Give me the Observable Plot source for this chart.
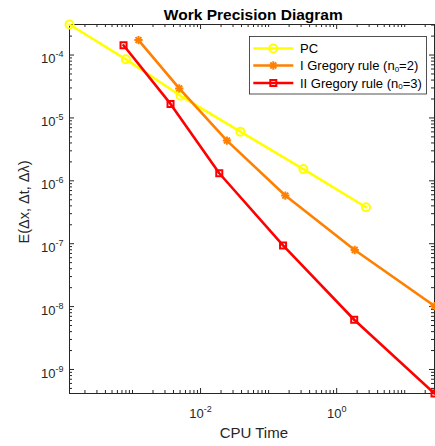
<!DOCTYPE html>
<html><head><meta charset="utf-8">
<script src="https://cdn.jsdelivr.net/npm/d3@7"></script>
<script src="https://cdn.jsdelivr.net/npm/@observablehq/plot@0.6"></script>
<style>body{margin:0;background:#fff;overflow:hidden}</style>
</head><body><div id="chart"></div>
<script>
// ---- data ----
const seriesNames = ["PC", "I Gregory rule (n0=2)", "II Gregory rule (n0=3)"];
const pcTime  = [1.186e-4, 8.0e-4, 5.08e-3, 0.0384, 0.324, 2.70];
const pcError = [3.06e-4, 8.55e-5, 2.25e-5, 6.05e-6, 1.54e-6, 3.8e-7];
const g1Time  = [1.225e-3, 4.86e-3, 0.0244, 0.176, 1.84, 27.4];
const g1Error = [1.73e-4, 2.95e-5, 4.36e-6, 5.83e-7, 7.94e-8, 1.02e-8];
const g2Time  = [7.38e-4, 3.62e-3, 0.01884, 0.163, 1.81, 27.4];
const g2Error = [1.43e-4, 1.67e-5, 1.32e-6, 9.4e-8, 6.18e-9, 4.15e-10];
const seriesColors = ["#ffff00", "#ff8000", "#ff0000"];
const yTickLabels = ["10^-9", "10^-8", "10^-7", "10^-6", "10^-5", "10^-4"];
const xTickLabels = ["10^-2", "10^0"];
const titleText = "Work Precision Diagram";
const xLabel = "CPU Time";
const yLabel = "E(\u0394x, \u0394t, \u0394\u03bb)";

// ---- layout ----
const W = 435, H = 446, mL = 69, mR = 1, mT = 24, mB = 53;
const fw = W - mL - mR, fh = H - mT - mB;
const axisColor = "#262626";
const font = "'Liberation Sans', Arial, Helvetica, sans-serif";

const toVal = s => Math.pow(10, +s.split("^")[1]);
const yMajor = yTickLabels.map(toVal);
const xMajor = xTickLabels.map(toVal);
const fmt = d => "10^" + Math.round(Math.log10(d));

const pc = pcTime.map((t, i) => ({t, e: pcError[i]}));
const g1 = g1Time.map((t, i) => ({t, e: g1Error[i]}));
const g2 = g2Time.map((t, i) => ({t, e: g2Error[i]}));
const xDomain = d3.extent([...pcTime, ...g1Time, ...g2Time]);
const yDomain = d3.extent([...pcError, ...g1Error, ...g2Error]);

function minorTicks(domain, skip) {
  const out = [];
  for (let k = Math.floor(Math.log10(domain[0])); k <= Math.ceil(Math.log10(domain[1])); k++)
    for (let m = 1; m <= 9; m++) {
      const v = m * Math.pow(10, k);
      if (v >= domain[0] && v <= domain[1] && !skip.some(s => Math.abs(s - v) / v < 1e-9)) out.push(v);
    }
  return out;
}
const yMinor = minorTicks(yDomain, yMajor);
const xMinor = minorTicks(xDomain, xMajor);

const lw = 2.6;
const plot = Plot.plot({
  width: W, height: H,
  marginLeft: mL, marginRight: mR, marginTop: mT, marginBottom: mB,
  style: {fontFamily: font, fontSize: "13px", color: axisColor, background: "white", overflow: "visible"},
  x: {type: "log", domain: xDomain, axis: null},
  y: {type: "log", domain: yDomain, axis: null},
  marks: [
    // tick marks (inward, MATLAB box style)
    Plot.ruleY(yMajor, {insetRight: fw - 5, stroke: axisColor}),
    Plot.ruleY(yMajor, {insetLeft: fw - 5, stroke: axisColor}),
    Plot.ruleY(yMinor, {insetRight: fw - 3, stroke: axisColor}),
    Plot.ruleY(yMinor, {insetLeft: fw - 3, stroke: axisColor}),
    Plot.ruleX(xMajor, {insetTop: fh - 5, stroke: axisColor}),
    Plot.ruleX(xMajor, {insetBottom: fh - 5, stroke: axisColor}),
    Plot.ruleX(xMinor, {insetTop: fh - 3, stroke: axisColor}),
    Plot.ruleX(xMinor, {insetBottom: fh - 3, stroke: axisColor}),
    Plot.frame({stroke: axisColor, strokeWidth: 1}),
    Plot.axisY({ticks: yMajor, tickSize: 0, tickPadding: 6, tickFormat: fmt, label: null, fontSize: 13}),
    Plot.axisX({ticks: xMajor, tickSize: 0, tickPadding: 15, tickFormat: fmt, label: null, fontSize: 13}),
    // series
    Plot.line(pc, {x: "t", y: "e", stroke: seriesColors[0], strokeWidth: lw}),
    Plot.dot(pc, {x: "t", y: "e", symbol: "circle", r: 4, stroke: seriesColors[0], strokeWidth: 2, fill: "none"}),
    Plot.line(g1, {x: "t", y: "e", stroke: seriesColors[1], strokeWidth: lw}),
    Plot.dot(g1, {x: "t", y: "e", symbol: "plus", r: 2.8, stroke: seriesColors[1], strokeWidth: 2, fill: "none"}),
    Plot.dot(g1, {x: "t", y: "e", symbol: "times", r: 2.8, stroke: seriesColors[1], strokeWidth: 2, fill: "none"}),
    Plot.line(g2, {x: "t", y: "e", stroke: seriesColors[2], strokeWidth: lw}),
    Plot.dot(g2, {x: "t", y: "e", symbol: "square", r: 3.4, stroke: seriesColors[2], strokeWidth: 2, fill: "none"}),
    // titles
    Plot.text([titleText], {frameAnchor: "top", dy: -5, dx: 1.3, lineAnchor: "bottom", fontWeight: "bold", fontSize: 15.5, fill: "black"}),
    Plot.text([xLabel], {frameAnchor: "bottom", dy: 44.7, dx: 1.8, lineAnchor: "bottom", fontSize: 15, fill: axisColor}),
    Plot.text([yLabel], {frameAnchor: "left", dx: -45, dy: -7, rotate: -90, textAnchor: "middle", lineAnchor: "middle", fontSize: 14.5, fill: axisColor})
  ]
});
document.getElementById("chart").appendChild(plot);

// superscript tick labels
plot.querySelectorAll('[aria-label="y-axis tick label"] text, [aria-label="x-axis tick label"] text').forEach(t => {
  const s = t.textContent;
  if (!s.includes("^")) return;
  const [base, exp] = s.split("^");
  const isY = t.closest('[aria-label="y-axis tick label"]') != null;
  t.textContent = "";
  const b = document.createElementNS("http://www.w3.org/2000/svg", "tspan");
  b.textContent = base;
  if (isY) b.setAttribute("dy", "4");
  t.appendChild(b);
  const e = document.createElementNS("http://www.w3.org/2000/svg", "tspan");
  e.textContent = exp;
  e.setAttribute("dy", "-6");
  e.setAttribute("font-size", "9px");
  t.appendChild(e);
});

// legend
const svg = d3.select(plot);
const lg = svg.append("g").attr("font-family", font).attr("font-size", 13).attr("text-anchor", "start");
lg.append("rect").attr("x", 249.5).attr("y", 36.5).attr("width", 177).attr("height", 57.5)
  .attr("fill", "white").attr("stroke", axisColor).attr("stroke-width", 0.8);
const rowY = [48.5, 65.5, 83];
const symSize = r => Math.PI * r * r;
seriesNames.forEach((name, i) => {
  const y = rowY[i], c = seriesColors[i];
  lg.append("line").attr("x1", 253.3).attr("x2", 293.3).attr("y1", y).attr("y2", y)
    .attr("stroke", c).attr("stroke-width", lw);
  const syms = i === 0 ? [[d3.symbolCircle, 4]] : i === 1 ? [[d3.symbolPlus, 2.8], [d3.symbolTimes, 2.8]] : [[d3.symbolSquare, 3.4]];
  syms.forEach(([s, r]) => lg.append("path").attr("d", d3.symbol(s, symSize(r))())
    .attr("transform", `translate(273.3,${y})`).attr("fill", "none").attr("stroke", c).attr("stroke-width", 2));
  const t = lg.append("text").attr("x", 300).attr("y", y + 4.6).attr("fill", "black").attr("text-anchor", "start");
  const m = name.match(/^(.*\(n)0(=.*)$/);
  if (m) {
    t.append("tspan").text(m[1]);
    t.append("tspan").text("0").attr("font-size", "8px").attr("dy", 1.5);
    t.append("tspan").text(m[2]).attr("dy", -1.5);
  } else t.text(name);
});
</script>
</body></html>
